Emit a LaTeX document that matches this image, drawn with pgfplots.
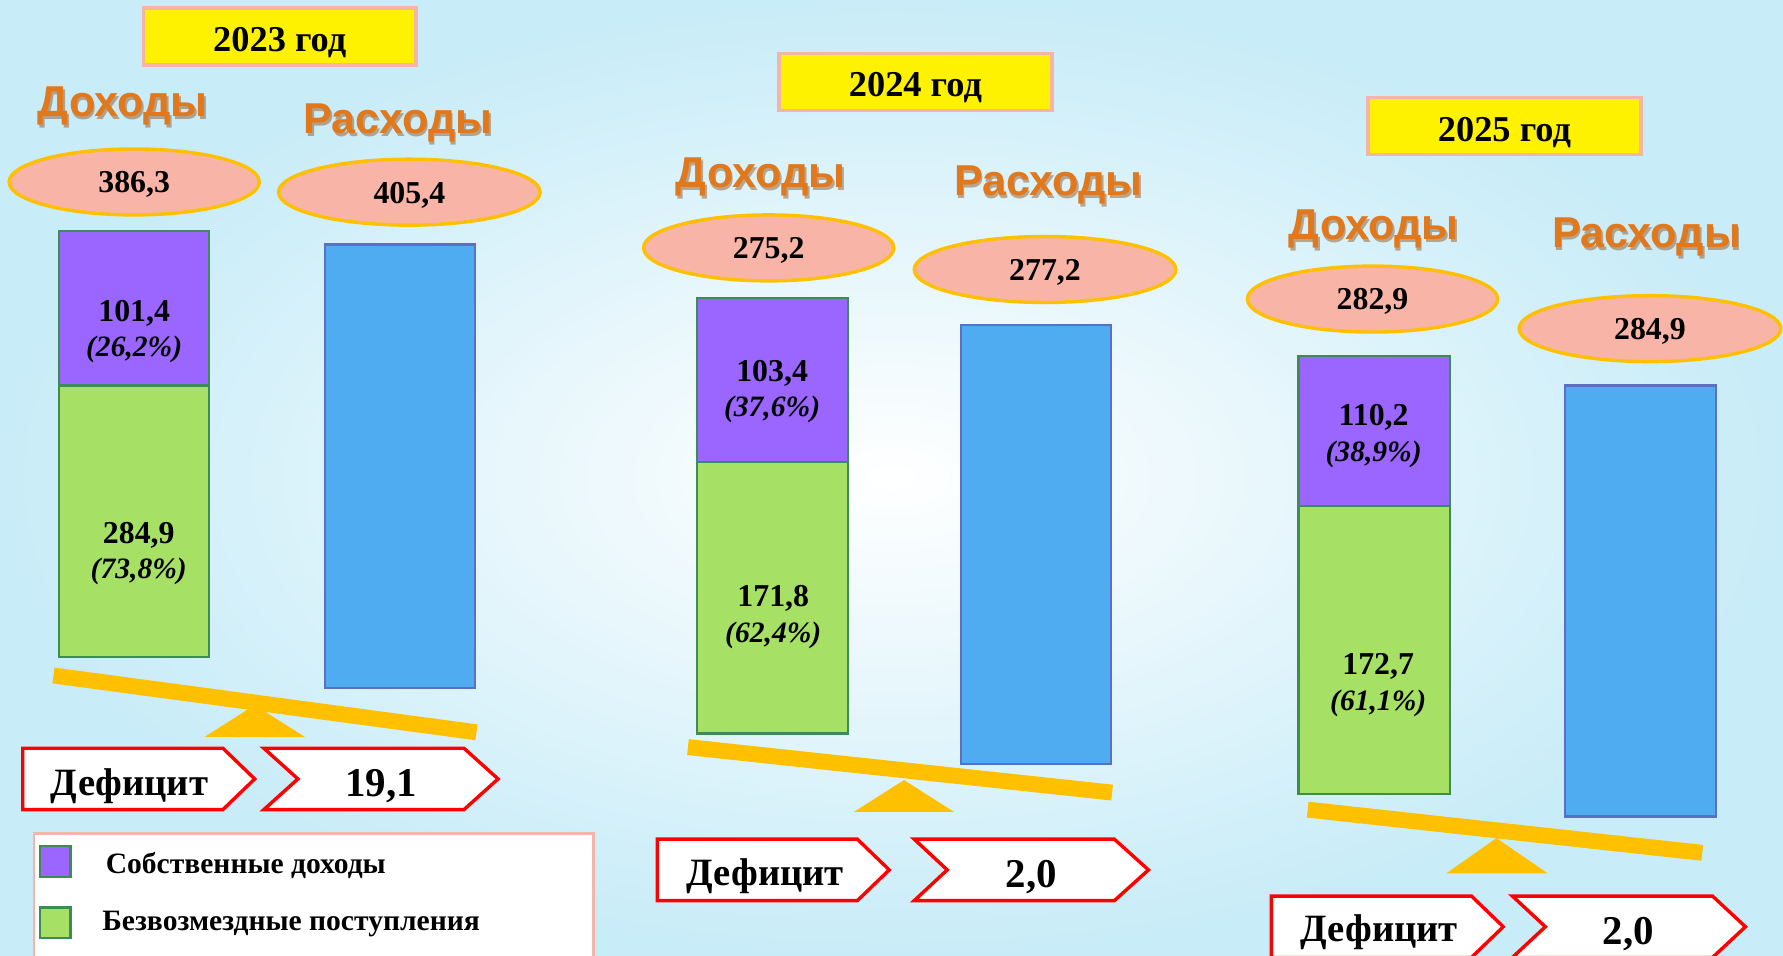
\documentclass[border=0pt]{standalone}
\usepackage{pgfplots}
\pgfplotsset{compat=1.18}
\usepackage{fontspec}
\setmainfont{Liberation Serif}
\newfontfamily\headfont{Liberation Sans}
\definecolor{ownc}{HTML}{9B66FF}
\definecolor{grantc}{HTML}{A6E065}
\definecolor{incedge}{HTML}{3C8C55}
\definecolor{expc}{HTML}{50ACF0}
\definecolor{expedge}{HTML}{5B70C0}
\definecolor{ellfill}{HTML}{F8B4A6}
\definecolor{gold}{HTML}{FFC000}
\definecolor{boxedge}{HTML}{F4B4A8}
\definecolor{headorange}{HTML}{E2781C}
\definecolor{headshadow}{HTML}{8A4A10}
\definecolor{bgc}{HTML}{C8ECF8}

% one bar segment drawn in its own axis: x0, x1, ytop, ybottom (picture px), value, fill, edge
\newcommand{\seg}[7]{%
  \pgfmathsetmacro{\sw}{(#2-#1)*0.5}%
  \pgfmathsetmacro{\sh}{(#4-#3)*0.5}%
  \begin{axis}[at={({#1*0.5pt},{-#4*0.5pt})}, anchor=south west,
      width=\sw pt, height=\sh pt, scale only axis, hide axis,
      xmin=0, xmax=1, ymin=0, ymax=#5, clip=false,
      ybar, bar width=\sw pt]
    \addplot[fill=#6, draw=#7, line width=1pt] coordinates {(0.5,#5)};
  \end{axis}}

\newcommand{\fs}[1]{\fontsize{#1}{#1}\selectfont}

\begin{document}
\begin{tikzpicture}
\begin{scope}[x=0.5pt,y=-0.5pt, every node/.append style={yshift=-1.2pt}]
  \useasboundingbox (0,0) rectangle (1568,840);
  \shade[inner color=white, outer color=bgc] (0,0) rectangle (1568,840);

  % ---------- year boxes
  \foreach \x/\y/\t in {126/7/2023, 685/47/2024, 1203/86/2025}{
    \draw[fill=yellow, draw=boxedge, line width=1.5pt] (\x,\y) rectangle ++(240,50);
    \node[font=\fs{16}\bfseries] at (\x+120,\y+28) {\t{} год};
  }

  % ---------- headings
  \foreach \x/\y/\t in {108/91/Доходы, 350/106/Расходы, 669/153/Доходы, 922/160/Расходы, 1208/199/Доходы, 1448/206/Расходы}{
    \node[font=\headfont\bfseries\fs{19}, text=headshadow, opacity=0.45] at (\x+1.5,\y+2.5) {\t};
    \node[font=\headfont\bfseries\fs{19}, text=headorange] at (\x,\y) {\t};
  }

  % ---------- ellipses with totals
  \foreach \x/\y/\r/\t in {118/160/110/{386,3}, 360/169/115/{405,4}, 676/218/110/{275,2}, 919/237/115/{277,2}, 1207/263/110/{282,9}, 1451/289/115/{284,9}}{
    \draw[fill=ellfill, draw=gold, line width=1.5pt] (\x,\y) ellipse [x radius=\r, y radius=29];
    \node[font=\fs{14}\bfseries] at (\x,\y) {\t};
  }

  % ---------- balance beams and fulcrums
  \draw[gold, line width=7pt] (47,594) -- (419,644);
  \fill[gold] (224,620) -- (268,648) -- (180,648) -- cycle;
  \draw[gold, line width=7pt] (605,657) -- (978,697);
  \fill[gold] (795,686) -- (839,714) -- (751,714) -- cycle;
  \draw[gold, line width=7pt] (1150,712) -- (1497,750);
  \fill[gold] (1316,737) -- (1361,768) -- (1272,768) -- cycle;

  % ---------- deficit boxes
  % 2023
  \draw[fill=white, draw=red, line width=1.5pt] (20,658) -- (196,658) -- (224,685) -- (196,712) -- (20,712) -- cycle;
  \draw[fill=white, draw=red, line width=1.5pt] (232,658) -- (408,658) -- (438,685) -- (408,712) -- (232,712) -- (262,685) -- cycle;
  \node[font=\fs{17}\bfseries] at (114,689) {Дефицит};
  \node[font=\fs{18}\bfseries] at (335,689) {19,1};
  % 2024
  \draw[fill=white, draw=red, line width=1.5pt] (578,738) -- (754,738) -- (782,765) -- (754,792) -- (578,792) -- cycle;
  \draw[fill=white, draw=red, line width=1.5pt] (804,738) -- (980,738) -- (1010,765) -- (980,792) -- (804,792) -- (833,765) -- cycle;
  \node[font=\fs{17}\bfseries] at (673,768) {Дефицит};
  \node[font=\fs{18}\bfseries] at (907,769) {2,0};
  % 2025
  \draw[fill=white, draw=red, line width=1.5pt] (1118,788) -- (1294,788) -- (1322,815) -- (1294,842) -- (1118,842) -- cycle;
  \draw[fill=white, draw=red, line width=1.5pt] (1330,788) -- (1506,788) -- (1535,815) -- (1506,842) -- (1330,842) -- (1359,815) -- cycle;
  \node[font=\fs{17}\bfseries] at (1213,817) {Дефицит};
  \node[font=\fs{18}\bfseries] at (1432,819) {2,0};

  % ---------- legend
  \draw[fill=white, draw=boxedge, line width=1.2pt] (30,733) rectangle (522,850);
  \draw[fill=ownc, draw=incedge, line width=1pt] (35,744) rectangle (62,771);
  \draw[fill=grantc, draw=incedge, line width=1pt] (35,798) rectangle (62,825);
  \node[font=\fs{13}\bfseries, anchor=west] at (86,759) {Собственные доходы};
  \node[font=\fs{13}\bfseries, anchor=west] at (83,810) {Безвозмездные поступления};
\end{scope}

% ---------- bars (each segment from its value)
% 2023
\seg{52}{184}{339}{578}{284.9}{grantc}{incedge}
\seg{52}{184}{203}{339}{101.4}{ownc}{incedge}
\seg{286}{418}{215}{605}{405.4}{expc}{expedge}
% 2024
\seg{613}{746}{406}{645}{171.8}{grantc}{incedge}
\seg{613}{746}{262}{406}{103.4}{ownc}{incedge}
\seg{845}{977}{286}{672}{277.2}{expc}{expedge}
% 2025
\seg{1142}{1275}{445}{698}{172.7}{grantc}{incedge}
\seg{1142}{1275}{313}{445}{110.2}{ownc}{incedge}
\seg{1376}{1509}{339}{718}{284.9}{expc}{expedge}

\begin{scope}[x=0.5pt,y=-0.5pt, every node/.append style={yshift=-1.2pt}]
  \foreach \x/\y/\v/\p in {118/273/{101,4}/{26,2}, 122/468/{284,9}/{73,8}, 679/326/{103,4}/{37,6}, 680/524/{171,8}/{62,4}, 1208/365/{110,2}/{38,9}, 1212/584/{172,7}/{61,1}}{
    \node[font=\fs{14}\bfseries] at (\x,\y) {\v};
    \node[font=\fs{13}\bfseries\itshape] at (\x,\y+32) {(\p\%)};
  }
\end{scope}
\end{tikzpicture}
\end{document}
